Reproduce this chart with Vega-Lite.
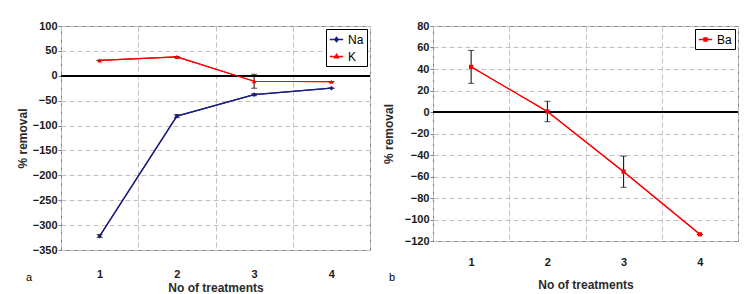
{
  "$schema": "https://vega.github.io/schema/vega-lite/v6.json",
  "padding": {"left": 15, "top": 19, "right": 0, "bottom": 0},
  "spacing": 9,
  "background": "white",
  "resolve": {"scale": {"color": "independent", "x": "independent", "y": "independent"}, "legend": {"color": "independent"}},
  "config": {
    "font": "Liberation Sans",
    "view": {"stroke": "#808080", "strokeWidth": 1},
    "axis": {
      "labelFont": "Liberation Sans", "labelFontWeight": "bold", "labelFontSize": 11, "labelColor": "#1a1a1a",
      "titleFont": "Liberation Sans", "titleFontWeight": "bold", "titleFontSize": 12, "titleColor": "#2a2a2a",
      "gridColor": "#c0c0c0", "gridDash": [5, 3], "gridWidth": 1, "gridOpacity": 1,
      "domain": false, "tickColor": "#808080", "tickSize": 3
    },
    "legend": {
      "orient": "top-right", "offset": 3, "title": null,
      "strokeColor": "black", "fillColor": "white", "padding": 3,
      "labelFont": "Liberation Sans", "labelFontSize": 12, "labelColor": "black",
      "rowPadding": 3, "symbolStrokeWidth": 1.5
    },
    "title": {"font": "Liberation Sans", "fontSize": 11, "fontWeight": "normal", "color": "black"}
  },
  "hconcat": [
    {
      "width": 309, "height": 224,
      "title": {"text": "a", "orient": "bottom", "anchor": "start", "frame": "group", "dx": -35, "dy": -25},
      "data": {"values": [
        {"t": 1, "el": "Na", "v": -322, "lo": -325, "hi": -319},
        {"t": 2, "el": "Na", "v": -81, "lo": -84, "hi": -78},
        {"t": 3, "el": "Na", "v": -38, "lo": -40, "hi": -36},
        {"t": 4, "el": "Na", "v": -25, "lo": -25, "hi": -25},
        {"t": 1, "el": "K", "v": 31, "lo": 31, "hi": 31},
        {"t": 2, "el": "K", "v": 38, "lo": 38, "hi": 38},
        {"t": 3, "el": "K", "v": -11, "lo": -25, "hi": 3},
        {"t": 4, "el": "K", "v": -12, "lo": -12, "hi": -12}
      ]},
      "layer": [
        {
          "mark": {"type": "line", "strokeWidth": 1.2},
          "encoding": {
            "x": {"field": "t", "type": "ordinal", "scale": {"type": "band", "paddingInner": 0, "paddingOuter": 0},
                  "axis": {"title": "No of treatments", "labelAngle": 0, "tickBand": "extent", "grid": true, "ticks": false, "labelPadding": 18, "titlePadding": 3}},
            "y": {"field": "v", "type": "quantitative", "scale": {"domain": [-350, 100], "nice": false, "zero": false},
                  "axis": {"title": "% removal", "values": [-350, -300, -250, -200, -150, -100, -50, 0, 50, 100], "tickCount": 20, "labelOverlap": false, "labelBound": false, "grid": true, "labelPadding": 1, "titlePadding": 3}},
            "color": {"field": "el", "type": "nominal", "sort": ["Na", "K"],
                      "scale": {"domain": ["Na", "K"], "range": ["#1c1c80", "#ff0000"]},
                      "legend": {"symbolSize": 180,
                                 "encode": {"symbols": {"update": {"shape": {"signal": "datum.value === 'Na' ? 'M-1,0L1,0M0,-0.3L0.25,0L0,0.3L-0.25,0Z' : 'M-1,0L1,0M0,-0.3L0.28,0.2L-0.28,0.2Z'"}, "fillOpacity": {"value": 1}, "fill": {"signal": "datum.value === 'Na' ? '#1c1c80' : '#ff0000'"}}}}}}
          }
        },
        {
          "mark": {"type": "rule", "color": "black", "strokeWidth": 1.3},
          "encoding": {"y": {"datum": 0, "type": "quantitative"}}
        },
        {
          "mark": {"type": "rule", "color": "black", "strokeWidth": 1},
          "encoding": {
            "x": {"field": "t", "type": "ordinal"},
            "y": {"field": "lo", "type": "quantitative"},
            "y2": {"field": "hi"}
          }
        },
        {
          "mark": {"type": "tick", "color": "black", "size": 6, "thickness": 1},
          "encoding": {"x": {"field": "t", "type": "ordinal"}, "y": {"field": "lo", "type": "quantitative"}}
        },
        {
          "mark": {"type": "tick", "color": "black", "size": 6, "thickness": 1},
          "encoding": {"x": {"field": "t", "type": "ordinal"}, "y": {"field": "hi", "type": "quantitative"}}
        },
        {
          "mark": {"type": "line", "strokeWidth": 1.2},
          "encoding": {
            "x": {"field": "t", "type": "ordinal"},
            "y": {"field": "v", "type": "quantitative"},
            "color": {"field": "el", "type": "nominal", "legend": null}
          }
        },
        {
          "transform": [{"filter": "datum.el === 'Na'"}],
          "mark": {"type": "point", "shape": "diamond", "filled": true, "size": 22, "opacity": 1, "color": "#1c1c80"},
          "encoding": {
            "x": {"field": "t", "type": "ordinal"},
            "y": {"field": "v", "type": "quantitative"}
          }
        },
        {
          "transform": [{"filter": "datum.el === 'K'"}],
          "mark": {"type": "point", "shape": "triangle-up", "filled": true, "size": 22, "opacity": 1, "color": "#ff0000"},
          "encoding": {
            "x": {"field": "t", "type": "ordinal"},
            "y": {"field": "v", "type": "quantitative"}
          }
        }
      ]
    },
    {
      "width": 305, "height": 215,
      "title": {"text": "b", "orient": "bottom", "anchor": "start", "frame": "group", "dx": -44, "dy": -22},
      "data": {"values": [
        {"t": 1, "el": "Ba", "v": 42, "lo": 26.7, "hi": 57.3},
        {"t": 2, "el": "Ba", "v": 0.5, "lo": -9, "hi": 10},
        {"t": 3, "el": "Ba", "v": -55.5, "lo": -70, "hi": -41},
        {"t": 4, "el": "Ba", "v": -113.8, "lo": -113.8, "hi": -113.8}
      ]},
      "layer": [
        {
          "mark": {"type": "line", "strokeWidth": 1.2},
          "encoding": {
            "x": {"field": "t", "type": "ordinal", "scale": {"type": "band", "paddingInner": 0, "paddingOuter": 0},
                  "axis": {"title": "No of treatments", "labelAngle": 0, "tickBand": "extent", "grid": true, "ticks": false, "labelPadding": 15, "titlePadding": 12}},
            "y": {"field": "v", "type": "quantitative", "scale": {"domain": [-120, 80], "nice": false, "zero": false},
                  "axis": {"title": "% removal", "values": [-120, -100, -80, -60, -40, -20, 0, 20, 40, 60, 80], "tickCount": 20, "labelOverlap": false, "labelBound": false, "grid": true, "labelPadding": 1, "titlePadding": 9}},
            "color": {"field": "el", "type": "nominal",
                      "scale": {"domain": ["Ba"], "range": ["#ff0000"]},
                      "legend": {"symbolSize": 180,
                                 "encode": {"symbols": {"update": {"shape": {"value": "M-1,0L1,0M-0.22,-0.22L0.22,-0.22L0.22,0.22L-0.22,0.22Z"}, "fillOpacity": {"value": 1}, "fill": {"value": "#ff0000"}}}}}}
          }
        },
        {
          "mark": {"type": "rule", "color": "black", "strokeWidth": 1.3},
          "encoding": {"y": {"datum": 0, "type": "quantitative"}}
        },
        {
          "mark": {"type": "rule", "color": "black", "strokeWidth": 1},
          "encoding": {
            "x": {"field": "t", "type": "ordinal"},
            "y": {"field": "lo", "type": "quantitative"},
            "y2": {"field": "hi"}
          }
        },
        {
          "mark": {"type": "tick", "color": "black", "size": 6, "thickness": 1},
          "encoding": {"x": {"field": "t", "type": "ordinal"}, "y": {"field": "lo", "type": "quantitative"}}
        },
        {
          "mark": {"type": "tick", "color": "black", "size": 6, "thickness": 1},
          "encoding": {"x": {"field": "t", "type": "ordinal"}, "y": {"field": "hi", "type": "quantitative"}}
        },
        {
          "mark": {"type": "line", "strokeWidth": 1.2, "color": "#ff0000"},
          "encoding": {
            "x": {"field": "t", "type": "ordinal"},
            "y": {"field": "v", "type": "quantitative"}
          }
        },
        {
          "mark": {"type": "square", "filled": true, "size": 18, "opacity": 1, "color": "#ff0000"},
          "encoding": {
            "x": {"field": "t", "type": "ordinal"},
            "y": {"field": "v", "type": "quantitative"}
          }
        }
      ]
    }
  ]
}
